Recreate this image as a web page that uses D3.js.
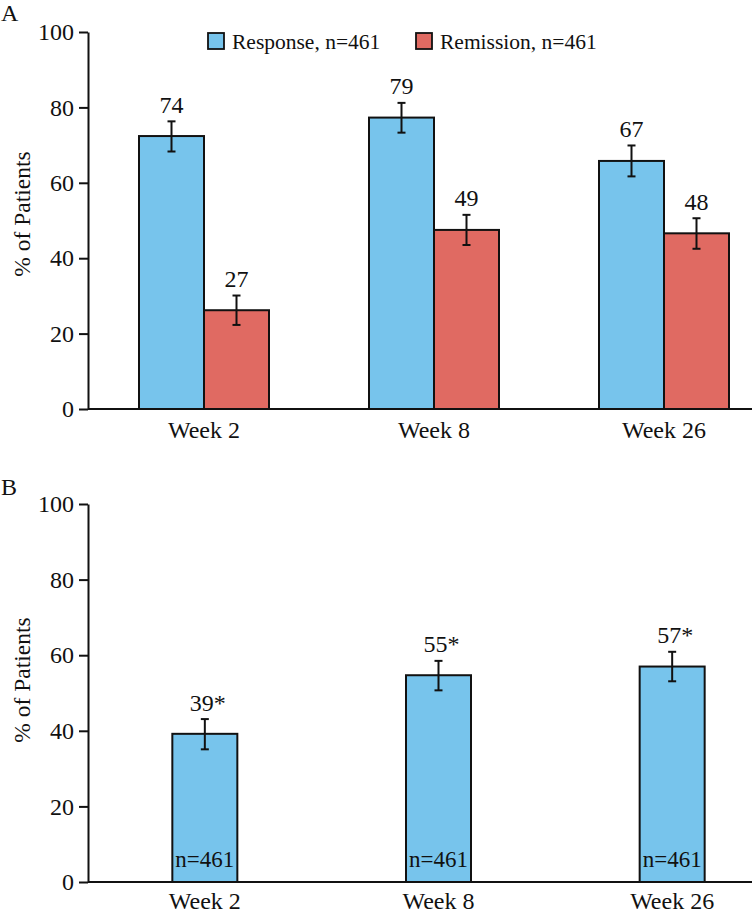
<!DOCTYPE html>
<html>
<head>
<meta charset="utf-8">
<script src="https://cdn.jsdelivr.net/npm/d3@7"></script>
<style>
  html, body { margin: 0; padding: 0; background: #fff; }
</style>
</head>
<body>
<svg id="chart" width="753" height="915"></svg>
<script>
// ---- Data ----
const weeks = ["Week 2", "Week 8", "Week 26"];
const yTicks = [0, 20, 40, 60, 80, 100];
const seriesNames = ["Response, n=461", "Remission, n=461"];
// Panel A (bar heights as drawn, labels as printed)
const responseValues = [72.4, 77.3, 65.8];
const responseLow = [68.3, 73.3, 61.7];
const responseHigh = [76.3, 81.2, 69.9];
const responseLabels = ["74", "79", "67"];
const remissionValues = [26.2, 47.5, 46.6];
const remissionLow = [22.3, 43.5, 42.5];
const remissionHigh = [30.1, 51.5, 50.6];
const remissionLabels = ["27", "49", "48"];
// Panel B
const bValues = [39.2, 54.7, 57.0];
const bLow = [35.1, 50.7, 53.1];
const bHigh = [43.1, 58.5, 60.9];
const bLabels = ["39*", "55*", "57*"];
const bN = ["n=461", "n=461", "n=461"];

const colors = ["#77C4EC", "#E06A62"];
const FONT = "'Liberation Serif', 'Times New Roman', serif";
const svg = d3.select("#chart");

function txt(sel, size) {
  return sel.attr("font-family", FONT).style("font-family", FONT)
    .style("font-size", size + "px").attr("fill", "#111").attr("text-anchor", "start");
}
// place a start-anchored text so that it is centred (k=0.5) or right-aligned (k=1) at x
function anchorAt(sel, x, k) {
  sel.each(function () {
    const w = this.getComputedTextLength();
    d3.select(this).attr("x", x - w * k);
  });
  return sel;
}

function panel(opts) {
  const g = svg.append("g");
  const y = d3.scaleLinear().domain([0, 100]).range([opts.y0, opts.y1]);
  const x = d3.scaleBand().domain(weeks).range(opts.xr);
  const axisX = 88;

  // y axis
  const yAxis = d3.axisLeft(y).tickValues(yTicks).tickSize(9).tickSizeOuter(0).tickPadding(5);
  const ya = g.append("g").attr("transform", `translate(${axisX},0)`).call(yAxis);
  ya.attr("font-family", FONT).attr("text-anchor", "start").attr("font-size", null);
  ya.selectAll("path, line").attr("stroke", "#111").attr("stroke-width", 2);
  const tt = txt(ya.selectAll("text"), 24);
  anchorAt(tt, -14, 1);

  // x axis line
  g.append("line").attr("x1", axisX).attr("x2", 752).attr("y1", y(0)).attr("y2", y(0))
    .attr("stroke", "#111").attr("stroke-width", 2);
  weeks.forEach(w => {
    const t = txt(g.append("text").attr("y", opts.weekY), 24).text(w);
    anchorAt(t, x(w) + x.bandwidth() / 2, 0.5);
  });

  // y title
  const yt = txt(g.append("text").attr("transform", `translate(30,${opts.titleY}) rotate(-90)`).attr("y", 0), 23.5)
    .text("% of Patients");
  anchorAt(yt, 0, 0.5);

  // panel letter
  txt(g.append("text").attr("x", 1).attr("y", opts.letterY), 24).text(opts.letter);

  // bars
  const bw = 65;
  opts.series.forEach((s) => {
    weeks.forEach((w, i) => {
      const cx = x(w) + x.bandwidth() / 2;
      const left = s.offset(cx, bw);
      g.append("rect").attr("x", left).attr("y", y(s.values[i]))
        .attr("width", bw).attr("height", y(0) - y(s.values[i]))
        .attr("fill", s.color).attr("stroke", "#111").attr("stroke-width", 2);
      const ex = left + bw / 2;
      const eg = g.append("g").attr("stroke", "#111").attr("stroke-width", 2);
      eg.append("line").attr("x1", ex).attr("x2", ex).attr("y1", y(s.high[i])).attr("y2", y(s.low[i]));
      eg.append("line").attr("x1", ex - 4).attr("x2", ex + 4).attr("y1", y(s.high[i])).attr("y2", y(s.high[i]));
      eg.append("line").attr("x1", ex - 4).attr("x2", ex + 4).attr("y1", y(s.low[i])).attr("y2", y(s.low[i]));
      const lt = txt(g.append("text").attr("y", y(s.high[i]) - 8.5), 24).text(s.labels[i]);
      anchorAt(lt, ex + (s.labelShift || 0), 0.5);
      if (s.inside) {
        const nt = txt(g.append("text").attr("y", y(0) - 15), 23).text(s.inside[i]);
        anchorAt(nt, ex, 0.5);
      }
    });
  });
  return { g, y, x };
}

panel({
  y0: 409, y1: 32, xr: [89, 779], weekY: 438, titleY: 214, letterY: 21, letter: "A",
  series: [
    { values: responseValues, low: responseLow, high: responseHigh, labels: responseLabels, color: colors[0], offset: (cx, bw) => cx - bw },
    { values: remissionValues, low: remissionLow, high: remissionHigh, labels: remissionLabels, color: colors[1], offset: (cx, bw) => cx }
  ]
});

panel({
  y0: 882, y1: 504, xr: [88, 789], weekY: 909, titleY: 680, letterY: 495, letter: "B",
  series: [
    { values: bValues, low: bLow, high: bHigh, labels: bLabels, color: colors[0], offset: (cx, bw) => cx - bw / 2, inside: bN, labelShift: 3 }
  ]
});

// legend
const legend = svg.append("g");
const legendX = [208, 416];
seriesNames.forEach((n, i) => {
  legend.append("rect").attr("x", legendX[i]).attr("y", 33).attr("width", 16).attr("height", 16)
    .attr("fill", colors[i]).attr("stroke", "#111").attr("stroke-width", 1.8);
  txt(legend.append("text").attr("x", legendX[i] + 24).attr("y", 49), 21.5).text(n);
});
</script>
</body>
</html>
